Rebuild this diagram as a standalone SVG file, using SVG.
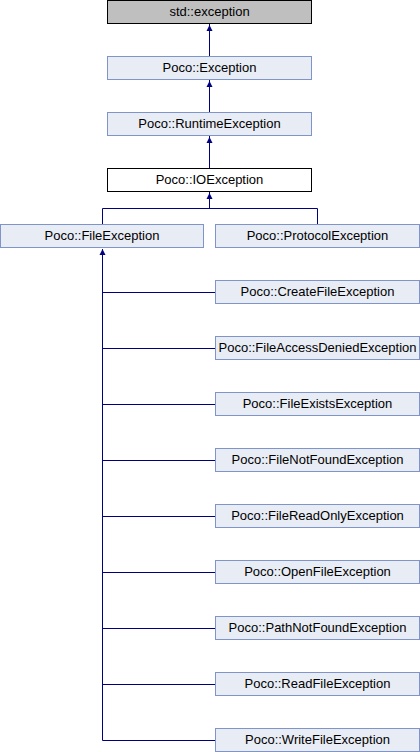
<svg xmlns="http://www.w3.org/2000/svg" width="420" height="752" viewBox="0 0 420 752">
<defs>
<style>
.b{fill:#e8ecf5;stroke:#7f94c8;stroke-width:1}
.g{fill:#bfbfbf;stroke:#000;stroke-width:1}
.w{fill:#fff;stroke:#000;stroke-width:1}
text{font-family:"Liberation Sans",Arial,sans-serif;font-size:13px;text-anchor:middle;fill:#000}
.c{fill:none;stroke:#000080;stroke-width:1}
.a{fill:#000080}
</style>
</defs>
<rect width="420" height="752" fill="#fff"/>
<g id="connectors">
<path class="c" d="M209.5 24V56"/>
<path class="a" d="M209.5 25l-3 6h6z"/>
<path class="c" d="M209.5 80V112"/>
<path class="a" d="M209.5 81l-3 6h6z"/>
<path class="c" d="M209.5 136V168"/>
<path class="a" d="M209.5 137l-3 6h6z"/>
<path class="c" d="M209.5 192V208.5M102.5 224V208.5H317.5V224"/>
<path class="a" d="M209.5 193l-3 6h6z"/>
<path class="c" d="M102.5 249V740.5M102.5 292.5H215M102.5 348.5H215M102.5 404.5H215M102.5 460.5H215M102.5 516.5H215M102.5 572.5H215M102.5 628.5H215M102.5 684.5H215M102.5 740.5H215"/>
<path class="a" d="M102.5 249l-3 6h6z"/>
</g>
<g id="std_exception"><rect class="g" x="107.5" y="0.5" width="204" height="23"/><text x="209.5" y="15.8">std::exception</text></g>
<g id="Exception"><rect class="b" x="107.5" y="56.5" width="204" height="23"/><text x="209.5" y="71.8">Poco::Exception</text></g>
<g id="RuntimeException"><rect class="b" x="107.5" y="112.5" width="204" height="23"/><text x="209.5" y="127.8">Poco::RuntimeException</text></g>
<g id="IOException"><rect class="w" x="107.5" y="168.5" width="204" height="23"/><text x="209.5" y="183.8">Poco::IOException</text></g>
<g id="FileException"><rect class="b" x="0.5" y="224.5" width="203" height="23"/><text x="102" y="239.8">Poco::FileException</text></g>
<g id="ProtocolException"><rect class="b" x="215.5" y="224.5" width="204" height="23"/><text x="317.5" y="239.8">Poco::ProtocolException</text></g>
<g id="CreateFileException"><rect class="b" x="215.5" y="280.5" width="204" height="23"/><text x="317.5" y="295.8">Poco::CreateFileException</text></g>
<g id="FileAccessDeniedException"><rect class="b" x="215.5" y="336.5" width="204" height="23"/><text x="317.5" y="351.8">Poco::FileAccessDeniedException</text></g>
<g id="FileExistsException"><rect class="b" x="215.5" y="392.5" width="204" height="23"/><text x="317.5" y="407.8">Poco::FileExistsException</text></g>
<g id="FileNotFoundException"><rect class="b" x="215.5" y="448.5" width="204" height="23"/><text x="317.5" y="463.8">Poco::FileNotFoundException</text></g>
<g id="FileReadOnlyException"><rect class="b" x="215.5" y="504.5" width="204" height="23"/><text x="317.5" y="519.8">Poco::FileReadOnlyException</text></g>
<g id="OpenFileException"><rect class="b" x="215.5" y="560.5" width="204" height="23"/><text x="317.5" y="575.8">Poco::OpenFileException</text></g>
<g id="PathNotFoundException"><rect class="b" x="215.5" y="616.5" width="204" height="23"/><text x="317.5" y="631.8">Poco::PathNotFoundException</text></g>
<g id="ReadFileException"><rect class="b" x="215.5" y="672.5" width="204" height="23"/><text x="317.5" y="687.8">Poco::ReadFileException</text></g>
<g id="WriteFileException"><rect class="b" x="215.5" y="728.5" width="204" height="23"/><text x="317.5" y="743.8">Poco::WriteFileException</text></g>
</svg>
